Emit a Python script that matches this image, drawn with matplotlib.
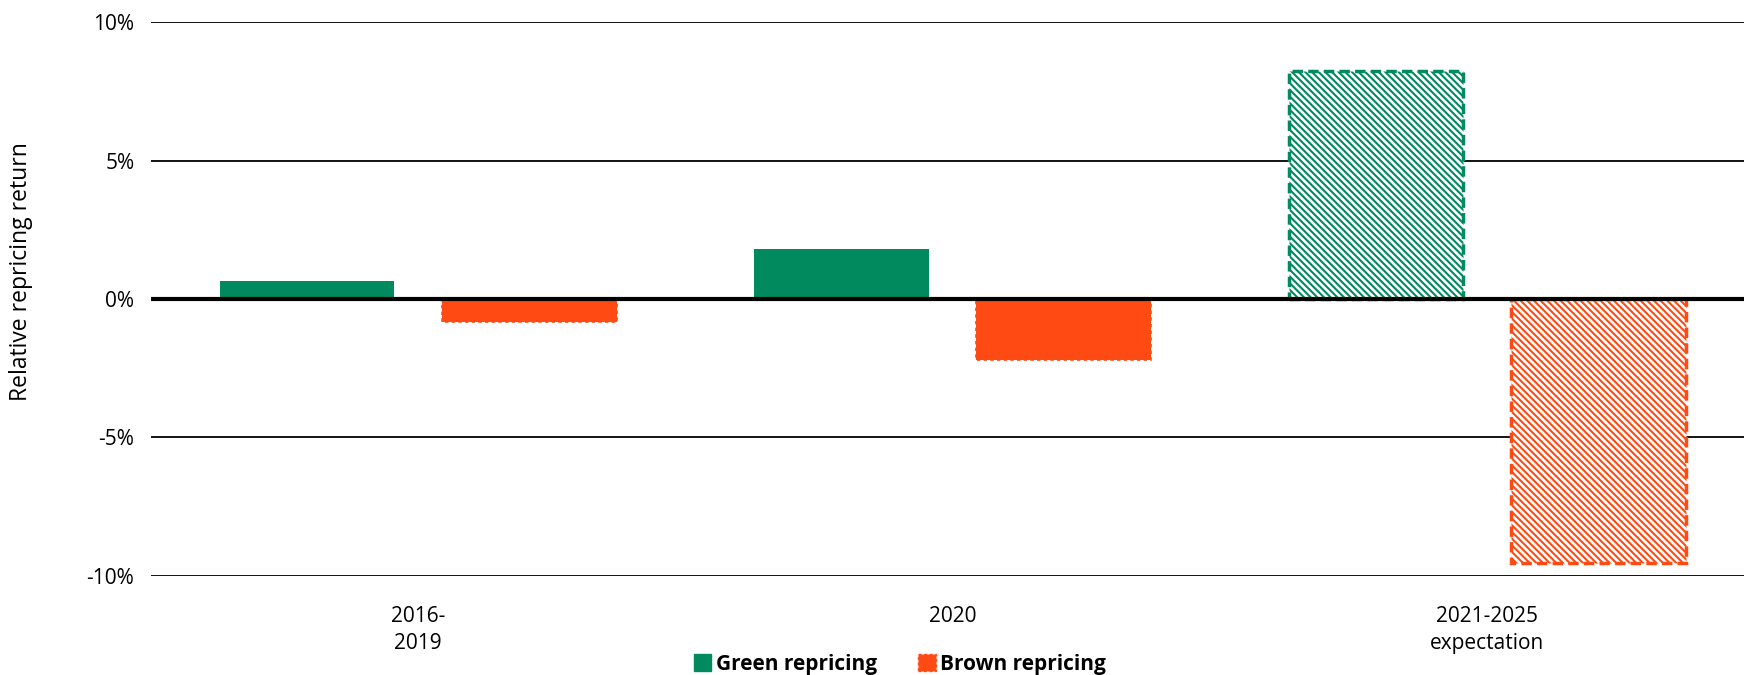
import matplotlib.pyplot as plt
from matplotlib.patches import Patch
from matplotlib.ticker import FuncFormatter

plt.rcParams['font.family'] = ['Open Sans', 'DejaVu Sans']
plt.rcParams['hatch.linewidth'] = 1.5

categories = ["2016-\n2019", "2020", "2021-2025\nexpectation"]
green_vals = [0.64, 1.8, 8.25]
brown_vals = [-0.84, -2.2, -9.55]
is_expectation = [False, False, True]

green = "#008A5E"
brown = "#FF4A14"

fig = plt.figure(figsize=(17.44, 6.75), dpi=100)
ax = fig.add_axes([0.0866, 0.147, 0.9193, 0.82])

x = range(len(categories))
width = 0.327
off = 0.208

g_bars = ax.bar([i - off for i in x], green_vals, width, color=green, zorder=3)
b_bars = ax.bar([i + off for i in x], brown_vals, width, color=brown, zorder=3,
                edgecolor=brown, linestyle=(0, (2, 2)), linewidth=1.2)

# forecast period: hatched bars with dashed outlines
for bars, col in ((g_bars, green), (b_bars, brown)):
    for bar, exp in zip(bars, is_expectation):
        if exp:
            bar.set_facecolor("white")
            bar.set_edgecolor(col)
            bar.set_hatch("\\\\\\\\\\")
            bar.set_linestyle((0, (3, 1.5)))
            bar.set_linewidth(2.5)

ax.set_xlim(-0.5, 2.5)
ax.set_ylim(-10, 10)
ax.set_yticks([-10, -5, 0, 5, 10])
ax.yaxis.set_major_formatter(FuncFormatter(lambda v, p: f"{v:.0f}%"))
ax.grid(axis="y", color="black", linewidth=1.3, zorder=0)
ax.axhline(0, color="black", linewidth=3, zorder=4)
ax.set_xticks(list(x))
ax.set_xticklabels(categories, linespacing=1.35)
ax.tick_params(length=0, labelsize=15, pad=12)
ax.tick_params(axis="x", pad=22)
for s in ax.spines.values():
    s.set_visible(False)

ax.set_ylabel("Relative repricing return", fontsize=16.5)
ax.yaxis.set_label_coords(-0.0735, 0.55)

handles = [Patch(facecolor=green, edgecolor=green),
           Patch(facecolor=brown, edgecolor=brown, linestyle=(0, (2, 2)))]
fig.legend(handles, ["Green repricing", "Brown repricing"], loc="center",
           bbox_to_anchor=(0.516, 0.016), ncol=2, frameon=False,
           prop={"weight": "bold", "size": 15}, handlelength=0.85,
           handleheight=0.85, handletextpad=0.2, columnspacing=2.0)

fig.savefig("out.png", dpi=100)
